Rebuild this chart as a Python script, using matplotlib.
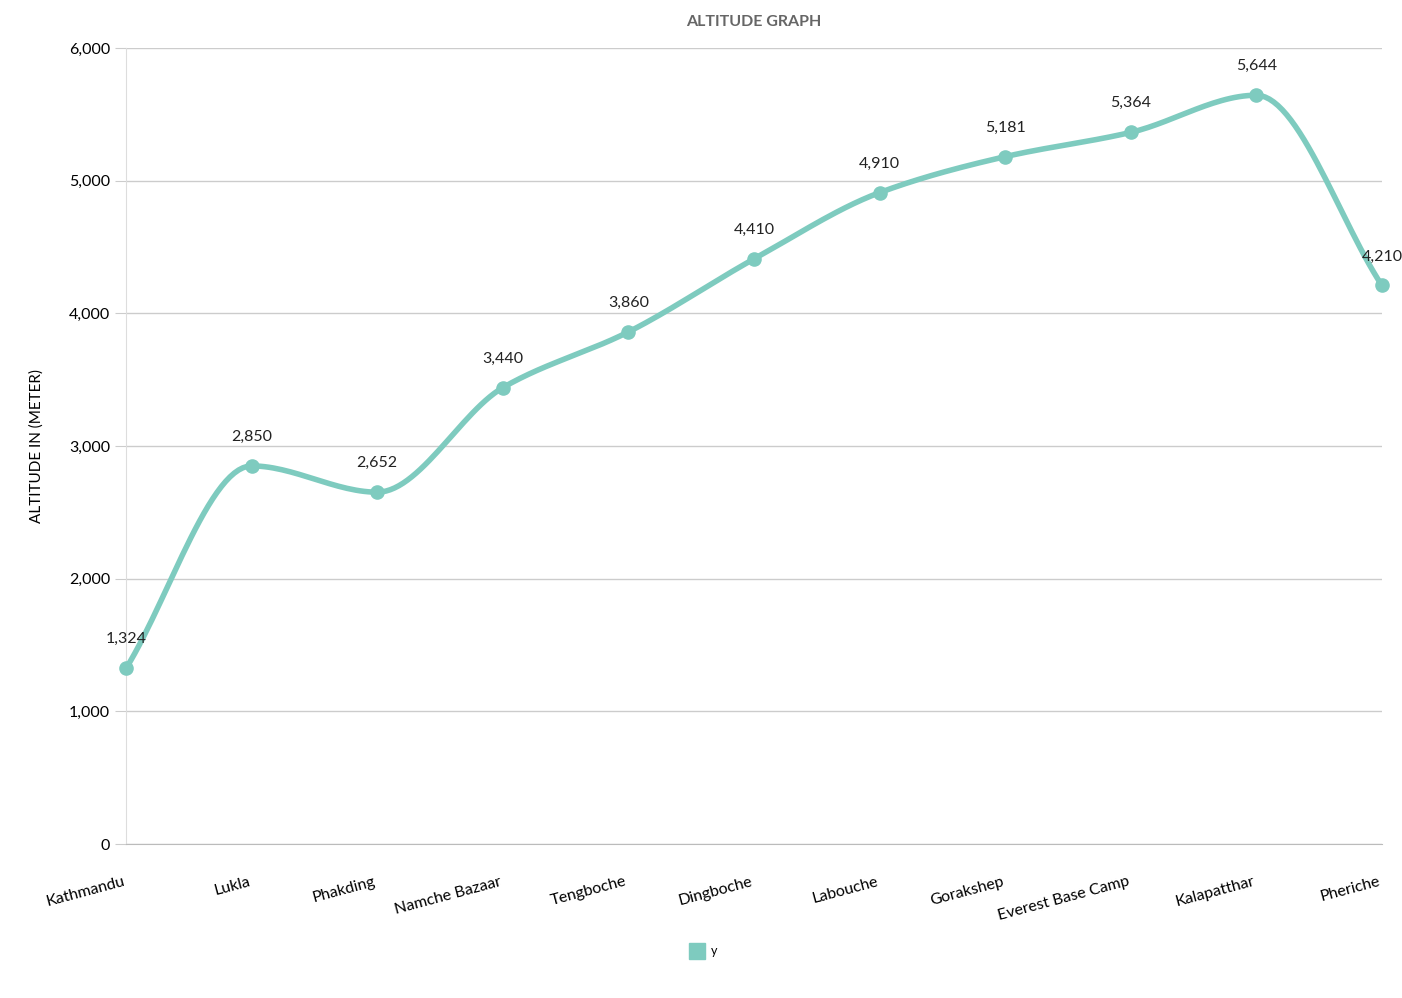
import numpy as np
import matplotlib.pyplot as plt
from matplotlib.lines import Line2D

plt.rcParams["font.family"] = "Lato"

places = ["Kathmandu", "Lukla", "Phakding", "Namche Bazaar", "Tengboche", "Dingboche",
          "Labouche", "Gorakshep", "Everest Base Camp", "Kalapatthar", "Pheriche"]
altitude = [1324, 2850, 2652, 3440, 3860, 4410, 4910, 5181, 5364, 5644, 4210]
yticks = [0, 1000, 2000, 3000, 4000, 5000, 6000]

color = "#7ecbbf"


def smooth(x, y, n=30):
    # monotone cubic curve through the points (no overshoot)
    x = np.asarray(x, float)
    y = np.asarray(y, float)
    h = np.diff(x)
    d = np.diff(y) / h
    m = np.zeros_like(y)
    for i in range(1, len(y) - 1):
        if d[i - 1] * d[i] > 0:
            m[i] = 2 / (1 / d[i - 1] + 1 / d[i])
    m[0] = d[0]
    m[-1] = d[-1]
    xs, ys = [], []
    for i in range(len(x) - 1):
        t = np.linspace(0, 1, n)
        h00 = 2 * t**3 - 3 * t**2 + 1
        h10 = t**3 - 2 * t**2 + t
        h01 = -2 * t**3 + 3 * t**2
        h11 = t**3 - t**2
        xs.append(x[i] + t * h[i])
        ys.append(h00 * y[i] + h10 * h[i] * m[i] + h01 * y[i + 1] + h11 * h[i] * m[i + 1])
    return np.concatenate(xs), np.concatenate(ys)


fig = plt.figure(figsize=(14.02, 9.98), dpi=100)
ax = fig.add_axes([0.0899, 0.1543, 0.8958, 0.7976])

x = np.arange(len(places))
sx, sy = smooth(x, altitude)
ax.plot(sx, sy, color=color, lw=4, solid_capstyle="round", zorder=3, label="y")
ax.scatter(x, altitude, s=90, color=color, zorder=4, clip_on=False)

for xi, yi in zip(x, altitude):
    ax.annotate(f"{yi:,}", (xi, yi), xytext=(0, 18), textcoords="offset points",
                ha="center", fontsize=11.5, color="#222222")

ax.set_xlim(0, len(places) - 1)
ax.set_ylim(0, 6000)
ax.set_yticks(yticks)
ax.set_yticklabels([f"{v:,}" for v in yticks], fontsize=11.5)
ax.set_xticks(x)
ax.set_xticklabels(places, rotation=15, ha="right", fontsize=11.5)
ax.tick_params(axis="x", length=0, pad=22)
ax.tick_params(axis="y", length=8, color="#cccccc")
ax.grid(axis="y", color="#cccccc", lw=1)
ax.set_axisbelow(True)
for s in ["top", "right"]:
    ax.spines[s].set_visible(False)
ax.spines["left"].set_color("#dddddd")
ax.spines["bottom"].set_color("#bbbbbb")
ax.set_ylabel("ALTITUDE IN (METER)", fontsize=11, labelpad=18)
ax.set_title("ALTITUDE GRAPH", fontsize=11.5, fontweight="bold", color="#666666", pad=16)

handle = Line2D([], [], marker="s", color=color, ls="", markersize=12)
fig.legend([handle], ["y"], loc="center", bbox_to_anchor=(0.5, 0.047), frameon=False,
           fontsize=9, handletextpad=0.1)

fig.savefig("out.png", dpi=100)
